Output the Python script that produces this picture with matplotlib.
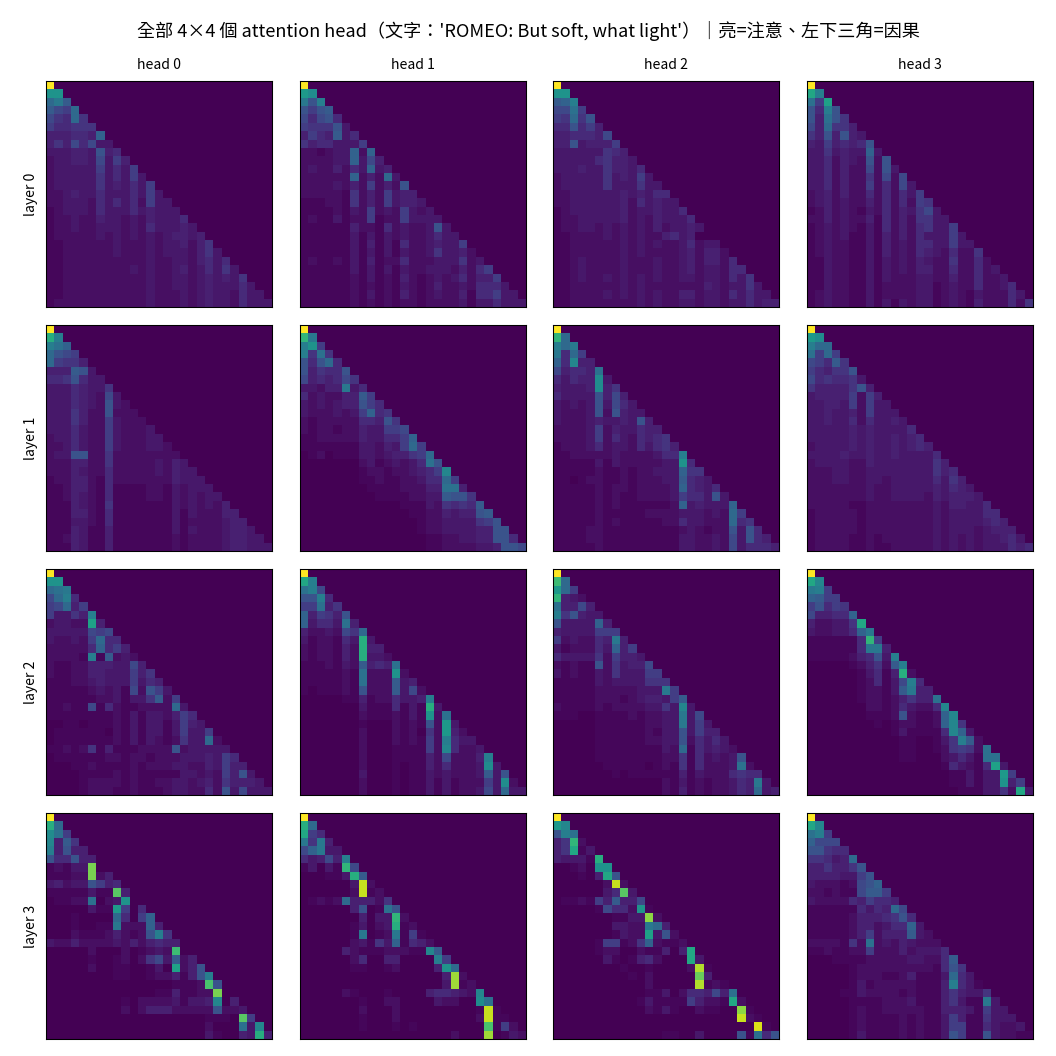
import numpy as np
import matplotlib
matplotlib.use("Agg")
import matplotlib.pyplot as plt

plt.rcParams['font.family'] = ['Noto Sans CJK TC', 'DejaVu Sans']

TITLE = "全部 4×4 個 attention head（文字：'ROMEO: But soft, what light'）｜亮=注意、左下三角=因果"
HEADS = ["head 0", "head 1", "head 2", "head 3"]
LAYERS = ["layer 0", "layer 1", "layer 2", "layer 3"]

# Each row: optional "start column:" then one base-36 digit per cell.
# Spaces inside a row are only for reading.
L0H0 = ["z","ii","cea","a87c","865c6","755666","444554b","46485833","333443945","2334438374","23333373537",
"233333635373","2333336343537","22343353335373","223332535352733","1233325333534333","12232243323243335",
"122322333232533343","1222223232323234434","11222222322232334246","112222223222323332463",
"1122222222223223324535","11222222223232234235363","112222222222322332343436","1122222222223223323433353",
"11222222222232223234332533","122222222222322232343325333"]
L0H1 = ["z","jh","e9f","979a","85895","766693","4754a35","64553337","221233b2b","222233b384",
"23224253b34","222222b24 2c3","222232 4 2 7 2 4 2 9","222221 6 2 4 2 7 3 4 4","111221 6 2 4 2 7 3 4 4 3",
"111121 3 2 7 2 3 2 7 3 2 3","121131 2 2 7 1 2 2 7 3 3 3 3","111111 4 2 2 1 5 2 3 2 2 3 9 3",
"111111 3 1 3 1 3 2 3 2 2 3 5 3 3","111111 3 1 4 1 3 1 5 2 2 3 4 3 3 7","111111 3 1 3 1 3 1 3 2 2 3 6 3 3 4 2",
"121121 3 1 4 1 2 2 5 2 2 2 3 3 3 6 2 3","111111 3 1 3 1 3 1 3 2 2 3 3 3 2 4 2 5 7",
"111111 2 1 3 1 2 1 4 2 1 2 3 2 3 5 2 4 4 7","111111 2 1 2 1 2 1 3 2 1 2 4 2 2 3 2 5 5 5 3",
"111111 2 1 3 1 2 1 4 2 1 2 3 2 2 4 1 5 5 7 3 3","111111 2 1 2 1 2 1 2 2 1 2 2 2 2 3 1 3 3 5 3 3 3"]
L0H2 = ["z","ii","abf","88d7","76c69","559574","4455548","44934447","333333654","3333356443",
"33343364435","233333634373","2333336333633","22333333 43 4 3 55","223333334253433","1233333342334335",
"12233333423243335","122332323232423343","112222 3 2 3 2 3 2 2 4 5 3 4","112222 2 2 3 2 3 2 3 2 2 3 5 2 3 3",
"112222 2 2 3 2 3 2 2 2 2 3 4 2 4 4 2","112322 2 2 3 2 2 2 3 2 2 3 4 2 4 4 2 5","112322 2 2 3 2 2 2 3 2 2 3 4 2 3 3 2 5 5",
"112322 3 2 3 2 3 2 3 2 2 3 3 2 3 3 2 5 3 6","112222 2 2 3 2 3 2 2 2 2 2 2 2 4 3 2 3 3 6 3",
"112222 3 2 3 2 3 2 3 2 2 4 4 2 3 3 2 5 3 5 3 3","112222 2 2 2 2 3 2 3 2 2 3 3 2 3 3 2 3 3 5 3 4 4"]
L0H3 = ["z","lf","d7k","95f9","94d96","84c664","6494943","43745459","336343 3b3","3352432929",
"33524228293","335242 2 6 2 8 2 8","335242 2 7 2 5 2 8 3","234242 2 5 2 5 2 5 3 7","234232 2 4 2 5 2 5 2 7 6",
"124232 1 3 2 5 2 4 3 6 8 3","224232 2 4 1 5 2 4 2 6 6 3 3","123232 1 3 1 5 2 4 2 5 6 3 3 7",
"123231 1 3 1 4 2 4 2 5 3 3 3 7 3","123221 1 3 1 4 2 3 2 5 5 3 3 7 3 3","123221 1 3 1 4 2 3 2 5 4 3 2 5 2 2 6",
"113221 1 3 1 3 2 3 2 4 3 2 2 6 2 2 5 2","113221 1 3 1 3 2 3 2 4 4 2 2 5 2 2 5 2 3",
"113221 1 3 1 3 2 2 2 3 3 2 2 4 2 2 5 2 2 3","113221 1 3 1 2 2 2 2 3 3 1 2 3 2 2 5 2 2 3 5",
"123221 1 3 1 2 2 2 2 3 3 1 2 3 2 1 3 2 2 2 5 3","123221 1 3 1 3 1 3 2 3 3 1 2 3 2 1 4 2 2 2 5 2 6"]
L1H0 = ["z","mf","fdb","c987","c7664","444a93","5569533","33354336","333543283","333543 2 9 3 2",
"33364 22 9 2 2 2","33364 22 7 3 2 2 2","33353 22 7 3 2 2 2 3","23353 22 7 3 2 2 2 3 3","22353 22 7 3 2 2 2 3 3 2",
"23399 22 6 2 2 2 2 2 2 2 2","22244 22 6 2 2 2 2 2 3 2 4 3","22243 22 5 2 2 2 2 2 3 2 4 3 3","12244 21 5 2 2 2 2 2 2 2 4 3 3 3",
"11244 21 5 1 1 1 1 2 2 1 3 2 3 3 3","11243 21 5 1 1 1 1 2 2 1 3 2 3 2 3 3","11143 21 6 1 1 1 1 1 1 1 3 2 3 2 3 2 4",
"11144 21 5 1 1 1 1 1 1 1 3 1 3 2 2 2 4 4","11133 21 5 1 1 1 1 1 1 1 3 1 2 2 2 2 3 4 4","11143 11 4 1 1 1 1 1 1 1 3 1 3 2 2 2 3 4 4 3",
"11243 11 4 1 1 1 1 1 1 1 2 1 2 2 2 2 3 4 4 3 3","11143 11 4 1 1 1 1 1 1 1 2 1 2 2 2 2 3 4 4 3 3 3"]
L1H1 = ["z","ne","fi7","f6d6","959c5","946559","8454586","33244e35","5232244a7","3232344 9 7 5",
"32223237b56","212222 2 5 5 4 9 6","212212 2 4 3 3 7 7 8","112222 2 4 3 3 5 5 7 b","111111 1 3 3 2 4 3 7 c 7",
"012011 1 3 3 2 3 4 4 6 7 c","000000 0 2 3 1 2 3 2 3 5 d 9","7:12212234 5 7 g","7:11211223 5 5 c 7","8:1111222 4 4 d d 4","8:0 1 1 1 1 2 2 3 3 a 9 9 6",
"12:1 1 1 3 2 6 5 6 5 a","13:1 1 2 2 4 3 4 4 9 a","14:1 2 2 3 3 3 3 6 7 9","14:1 2 2 3 3 3 3 4 4 9 9","15:1 1 2 2 3 3 4 4 9 9 5","15:1 1 2 2 2 2 3 3 4 9 9 8"]
L1H2 = ["z","nc","fce","e5c7","b5g44","84554d","53544h3","43334h46","533339484","3232393853",
"32223 9 2 9 4 3 3","32223 4 3 3 4 3 9 4","22223 7 2 4 3 3 5 4 4","22223 7 2 5 3 2 5 4 5 6","12223 5 2 3 3 2 5 3 5 6 4",
"11222 2 2 3 2 2 2 2 3 5 5 f","11111 3 1 3 2 2 2 2 2 3 3 i 5","11111 2 1 1 2 1 2 2 3 3 3 b 6 6","11012 2 1 1 2 1 2 2 2 3 3 a 5 4 3",
"11111 2 1 2 2 1 2 2 2 2 3 b 5 4 3 5","11111 2 1 2 1 1 2 2 2 2 3 7 5 5 3 9 3","11111 2 1 2 1 1 1 1 1 1 2 b 3 4 3 3 3 b","11111 2 1 1 1 1 1 2 2 2 2 3 3 3 2 3 2 c 7",
"11111 2 1 2 1 1 1 1 1 2 2 5 3 3 2 2 2 c 5 6","11112 2 1 1 1 1 1 1 1 1 1 2 3 2 1 2 2 9 3 9 5","11112 2 1 1 1 1 1 1 1 1 1 3 3 2 2 3 2 8 3 9 5 4","11111 2 1 1 1 1 1 1 1 1 1 3 3 2 2 3 2 8 3 5 5 5 4"]
L1H3 = ["z","jh","fcc","d7c7","875a6","754669","8565563","64444694","344447274","33443 7 2 7 3 3",
"33433 4 2 7 3 3 3","33433 5 2 5 3 3 4 3","33333 4 3 4 3 3 3 3 5","33333 4 3 4 3 3 4 3 4 5","23333 4 3 4 3 3 4 3 4 5 4",
"33334 3 3 4 3 3 4 3 3 3 3 5","23333 2 2 4 3 3 3 3 3 3 3 6 4","22233 2 2 3 3 3 3 3 3 3 3 6 4 5","22233 2 2 3 3 2 3 3 3 3 3 5 3 6 4",
"22222 2 2 3 2 2 3 3 3 3 3 4 3 5 4 3","22222 2 2 3 2 2 3 3 3 3 2 4 3 4 4 4 3","22222 1 1 2 2 2 2 2 2 2 2 3 2 4 4 3 3 5","12222 2 1 2 2 2 2 2 2 2 2 3 2 3 3 3 3 5 5",
"12222 2 1 2 2 2 2 2 2 2 2 3 2 3 3 3 3 4 5 4","12222 2 1 2 2 2 2 2 2 2 2 3 2 3 3 3 2 3 4 4 4","12222 1 1 2 1 2 2 2 2 2 2 3 2 3 2 3 2 3 3 4 5 3","12222 1 1 2 1 1 2 2 2 2 2 3 2 3 2 3 2 3 3 3 5 4 5"]
L2H0 = ["z","ii","cde","8cf5","78c47","733 64f","233 22k4","33333878","322327c55","222225b574",
"22221 f 1 a 2 3 2","21122 4 4 4 3 3 8 4","21122 4 4 3 3 3 7 4 6","11122 3 4 3 3 3 7 3 5 4","11111 2 3 2 3 1 8 2 9 7 3",
"11111 1 2 2 3 1 3 3 6 a 2 7","11211 8 1 5 2 1 1 2 2 2 2 c 3","11111 1 1 1 2 1 3 1 3 3 2 4 7 5","00110 1 1 1 2 1 3 1 3 3 1 3 7 4 3",
"01111 1 1 0 2 1 3 1 3 3 1 3 7 3 3 7","01111 1 1 1 2 1 3 1 3 2 1 2 6 3 3 c 2","11212 6 1 4 1 1 1 2 2 2 2 9 2 3 3 3 3 3","01111 1 1 2 2 1 2 2 1 2 2 2 3 3 3 4 3 7 5",
"00011 2 1 1 1 1 2 1 2 2 2 3 3 2 2 4 3 7 4 4","00001 1 1 1 2 1 2 1 1 1 1 1 3 3 2 3 2 7 4 9 3","00001 2 2 2 2 1 2 1 1 2 2 3 3 2 3 4 2 6 4 4 4 3","00001 2 2 2 1 1 2 1 1 1 2 3 3 2 2 5 2 9 3 8 3 3 3"]
L2H1 = ["z","lf","df8","99f5","77d46","b47649","b3553d4","42232 86c","31221 5 3 m 3","21221 4 2 m 4 4",
"21221 4 2 m 3 3 2","11121 3 2 a 4 5 4 d","11111 2 1 d 2 2 2 i 2","11111 2 1 d 2 2 2 a 3 4","10111 2 1 9 2 2 2 a 3 8 2",
"00000 1 1 4 1 2 2 5 3 3 4 f","7:3 1 1 1 5 1 3 1 m 3","7:2 1 1 1 2 1 3 1 i 2 d","7:1 0 0 0 2 1 2 1 9 2 j 3","7:2 0 0 0 2 1 2 0 6 2 j 4 2",
"7:2 0 0 0 2 1 2 1 7 2 f 5 3 3","7:2 0 0 0 1 1 1 1 7 2 g 5 2 2 3","7:2 0 0 0 1 1 1 1 4 2 8 2 2 2 4 f","7:2 0 0 0 1 0 1 1 4 2 5 2 2 2 3 h 3",
"7:3 0 0 0 1 0 1 1 3 2 3 2 2 2 3 a 3 9","7:2 0 0 0 1 0 1 1 3 1 3 1 2 2 2 7 3 h 2","7:2 0 0 0 1 0 1 1 3 1 3 1 2 2 3 8 3 c 3 3"]
L2H2 = ["z","oc","jc7","n432","d4484","f69433","9333 3b4","43333777","723225 4 e 4","31222 5 3 b 4 7",
"53333 6 2 7 4 4 3","21211 9 2 6 3 4 4 8","31211 3 2 6 3 3 3 7 7","11111 3 2 3 3 3 3 6 6 6","11111 2 2 2 2 2 3 3 3 e 7",
"11111 2 2 2 1 2 3 4 4 3 7 a","21111 2 1 2 2 2 2 3 3 6 3 g 3","11100 1 1 1 1 2 1 2 2 3 3 e 3 8","5:1 1 1 1 1 1 2 2 3 3 e 3 7 3","5:1 1 1 1 1 1 2 1 3 3 9 3 7 4 4",
"5:1 1 1 1 1 1 2 2 3 3 9 2 5 3 5 3","5:1 1 1 1 1 1 1 1 3 2 c 1 5 3 4 3 2","5:1 1 1 1 1 1 1 1 2 2 6 1 5 2 3 2 3 9","6:1 1 1 1 1 0 1 2 1 6 1 5 2 2 2 3 d 2",
"7:1 0 1 1 1 1 1 1 4 1 3 2 2 2 5 6 5 5","13:2 1 3 1 2 1 2 2 3 5 4 e 3","13:2 1 4 1 2 1 2 2 3 5 4 c 3 4"]
L2H3 = ["z","lg","ef7","ba77","79576","84455b","4223 36l","32233 5 b e","11111 1 5 n 7","11111 1 5 e e 4",
"11111 2 4 5 9 3 f","5:1 2 4 6 2 a f","6:1 3 5 1 4 m 2","6:1 2 5 1 3 8 f 5","6:1 2 2 1 3 a e 4 4","6:1 2 2 1 2 4 6 4 4 d",
"7:2 2 1 2 5 3 2 2 5 g","7:1 1 1 2 9 2 1 1 2 b g","8:1 0 1 2 2 1 1 2 b g 6","10:1 3 1 1 1 1 5 g b 3","11:1 1 0 0 1 3 6 f a 2",
"11:1 1 0 0 1 2 6 7 6 2 d","11:1 1 0 0 0 2 3 5 3 1 d d","16:1 5 3 2 1 5 k 3","17:1 1 3 1 3 3 j 7","17:1 1 3 1 3 3 i 4 7","18:1 1 1 3 3 6 2 l 3"]
L3H0 = ["z","mc","hd7","g4a6","f4944","955944","12133s","11122s24","342339745","11111311q4","01122d023i",
"00000311j705","00010000c507b","00010011e222b4","0002111242129f6","3224222232424544","000002000201232o",
"000001001202683a24","000002001100130k249","0000000011001224149f","15:1112p9","13:1141122s",
"9:10222231334g04","9:202444222229223","19:1110q7","19:2000d3g","19:310043m4"]
L3H1 = ["z","mc","l75","e6e4","8be33","53484f","13031n8","3:113ma","6:3w2","6:2w12","012 1 2 c 4 4 4 2 6",
"6:49 0 1 d 9","6:04 0 3 3 n 2","6:13 0 2 3 m 1 2","6:1e 0 1 2 e 1 7 1","6:23 1 6 3 b 1 5 4 2",
"5:42 1 1 1 2 2 2 1 1 g a","6:25 0 0 4 4 0 0 0 0 f 7","6:11 0 0 1 2 0 0 0 0 4 i c","17:4u2","17:3u12",
"5:21 0 0 0 1 0 0 0 0 4 5 5 4 3 2 g","7:1 0 0 2 2 0 0 0 0 3 2 2 0 0 h d","7:2 0 0 0 2 0 0 0 0 0 0 0 0 0 1 w 1","7:1 0 0 0 2 0 0 0 0 0 0 0 0 0 2 w 1 1",
"7:1 0 0 0 1 0 1 0 0 0 0 0 0 0 0 p 1 7 2","18:2 0 0 0 u 0 1 3 2"]
L3H2 = ["z","jg","9fd","46n2","46l13","43331m","00120ii","3:104l9","6:2w2","6:35q3","011 2 1 7 4 a 4 4 8",
"5:18 5 5 2 i 1","7:1 1 3 3 t 2","7:3 3 2 2 e c 4","7:1 3 2 2 k 3 9 2","5:17 7 1 2 6 b 2 1 1 2","5:12 2 0 0 2 1 1 4 0 4 l",
"6:31 0 1 4 5 2 0 0 0 l 3","8:1 0 0 1 0 0 0 0 2 v 1","9:1 0 2 0 0 0 0 0 r 4","11:2 0 0 0 0 0 v 1 2 1","11:1 1 3 0 2 5 5 4 8 4 d",
"10:1 3 1 1 1 1 7 4 2 2 1 l 2","11:2 1 3 1 0 0 2 1 1 0 0 t 1","22:w21","24:x1","13:1 1 0 0 3 0 0 0 0 9 1 d 5 9"]
L3H3 = ["z","lg","df7","b888","99655","66534c","4464469","44443379","322212 8 9 b","22121 1 8 a a 7","32222 5 4 7 5 5 4",
"11111 1 5 3 5 4 c 8","11111 2 4 4 4 5 6 9 5","11111 2 4 4 2 3 5 5 b 3","11111 2 4 7 2 4 4 4 a 3 2","22221 6 2 d 2 3 2 4 3 2 2 2","11211 2 2 7 2 2 2 4 2 3 3 3 5",
"00011 1 1 2 2 2 2 2 3 3 2 2 5 a","00000 1 2 2 2 2 2 2 2 2 2 1 5 9 6","00000 1 2 2 2 1 1 2 4 1 1 1 3 c 5 3","00000 1 3 1 2 2 2 2 2 1 1 1 4 f 5 3 1","00001 1 3 2 2 2 2 1 2 1 1 1 4 6 4 3 3 6",
"00000 1 1 1 1 2 2 2 3 1 1 1 4 6 3 1 1 e 3","00000 1 2 1 1 2 2 2 2 2 1 1 4 4 4 3 1 7 3 3","00000 1 2 1 1 1 1 2 1 2 1 1 3 7 4 1 1 6 3 3 3","00000 1 2 1 1 1 1 2 1 2 1 1 3 7 7 1 1 5 3 2 2 3","00000 1 3 1 1 1 1 2 1 2 1 1 3 9 7 1 1 9 3 2 2 1 1"]

PANELS = [[L0H0, L0H1, L0H2, L0H3], [L1H0, L1H1, L1H2, L1H3],
          [L2H0, L2H1, L2H2, L2H3], [L3H0, L3H1, L3H2, L3H3]]
N = 27


def level(ch):
    # digit -> attention; the dim end of the digit scale reads lower than a straight d/35
    d = int(ch, 36)
    return d / 35 * min(1.0, 0.6 + 0.4 * d / 9)


def grid(rows):
    m = np.zeros((N, N))
    for i, row in enumerate(rows):
        start, _, digits = row.rpartition(":")
        first = int(start) if start else 0
        digits = digits.replace(" ", "")
        for j, ch in enumerate(digits[:i + 1 - first]):
            m[i, first + j] = level(ch)
    return m


W = 1056
fig = plt.figure(figsize=(11, 11), dpi=96)
lefts = [46, 300, 553, 807]
tops = [81, 325, 569, 813]
SIZE = 226
for r, top in enumerate(tops):
    for c, left in enumerate(lefts):
        ax = fig.add_axes([left / W, 1 - (top + SIZE) / W, SIZE / W, SIZE / W])
        ax.imshow(grid(PANELS[r][c]), cmap="viridis", vmin=0, vmax=1, aspect="auto", interpolation="nearest")
        ax.set_xticks([])
        ax.set_yticks([])
        if r == 0:
            ax.set_title(HEADS[c], fontsize=10.5, pad=9)
        if c == 0:
            ax.set_ylabel(LAYERS[r], fontsize=10.5, labelpad=6)
fig.text(528 / W, 1 - 31 / W, TITLE, ha="center", va="center", fontsize=13.6)
fig.savefig("out.png", dpi=96)
